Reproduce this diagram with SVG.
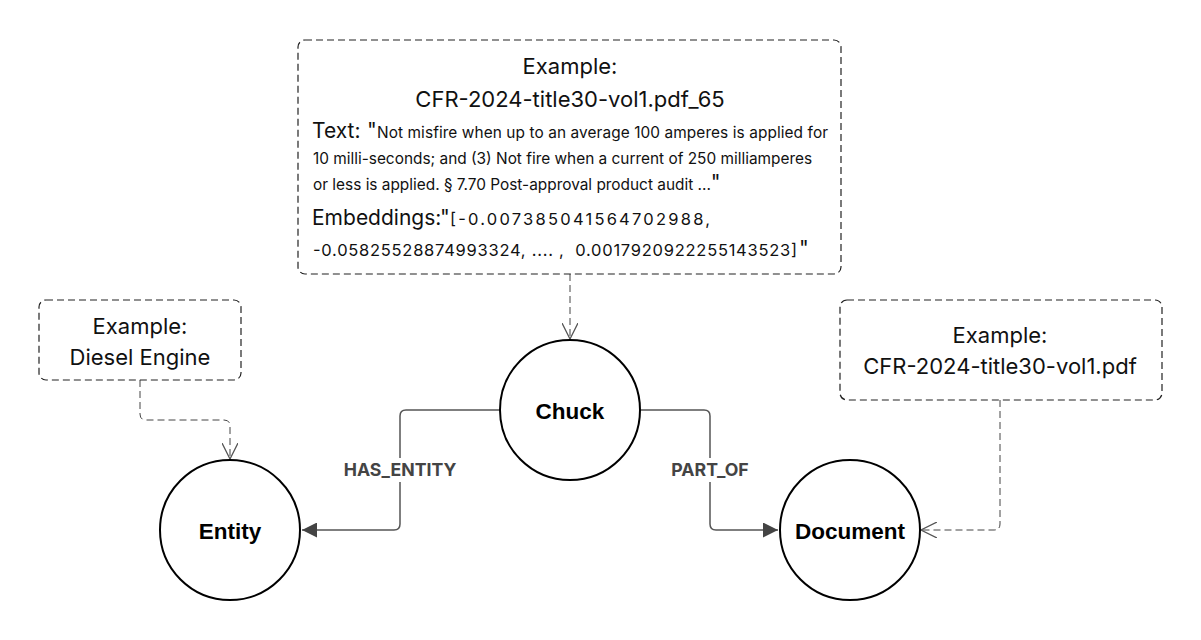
<svg xmlns="http://www.w3.org/2000/svg" width="1201" height="640" viewBox="0 0 1201 640">
<defs>
<style>
.box{fill:#fff;stroke:#222;stroke-width:1.2;stroke-dasharray:7 4}
.node{fill:#fff;stroke:#000;stroke-width:2}
.ex{font-family:Inter,"Liberation Sans",sans-serif;fill:#111;text-anchor:middle}
.l{text-anchor:start}
.big{font-size:22px}
.mid{font-size:21px}
.small{font-size:15.4px}
.num{font-size:16.5px}
.nl{font-family:"Liberation Sans",Arial,sans-serif;font-weight:bold;font-size:22.5px;fill:#000;text-anchor:middle}
.el{font-family:Inter,"Liberation Sans",sans-serif;font-weight:bold;font-size:17.7px;fill:#444;text-anchor:middle}
.edge{fill:none;stroke:#555;stroke-width:1.5}
.dedge{fill:none;stroke:#444;stroke-width:1;stroke-dasharray:7 4}
</style>
<marker id="filled" viewBox="0 0 10 10" refX="10" refY="5" markerWidth="15" markerHeight="15" markerUnits="userSpaceOnUse" orient="auto">
<path d="M0,0 L10,5 L0,10 z" fill="#444"/>
</marker>
<marker id="open" viewBox="0 0 10 10" refX="10" refY="5" markerWidth="16" markerHeight="16" markerUnits="userSpaceOnUse" orient="auto">
<path d="M0,0 L10,5 L0,10" fill="none" stroke="#555" stroke-width="0.8"/>
</marker>
</defs>
<rect width="1201" height="640" fill="#fff"/>
<g id="connectors">
<path class="edge" d="M500,410 H406 Q400,410 400,416 V524 Q400,530 394,530 H302" marker-end="url(#filled)"/>
<path class="edge" d="M640,410 H704 Q710,410 710,416 V524 Q710,530 716,530 H778" marker-end="url(#filled)"/>
<path class="dedge" d="M570,274 V339" marker-end="url(#open)"/>
<path class="dedge" d="M140,380 V414 Q140,420 146,420 H224 Q230,420 230,426 V459" marker-end="url(#open)"/>
<path class="dedge" d="M1000,400 V524 Q1000,530 994,530 H921" marker-end="url(#open)"/>
<rect x="338" y="458" width="124" height="24" fill="#fff"/>
<text class="el" x="400" y="476">HAS_ENTITY</text>
<rect x="666" y="458" width="88" height="24" fill="#fff"/>
<text class="el" x="710" y="476">PART_OF</text>
</g>
<g id="chunk-example">
<rect class="box" x="298" y="40" width="543" height="234" rx="7"/>
<text class="ex big" x="570" y="74">Example:</text>
<text class="ex big" x="570" y="107">CFR-2024-title30-vol1.pdf_65</text>
<text class="ex l mid" x="312" y="138">Text:</text>
<text class="ex l mid" x="367" y="138">"</text>
<text class="ex l small" x="377" y="138" textLength="451" lengthAdjust="spacing">Not misfire when up to an average 100 amperes is applied for</text>
<text class="ex l small" x="313" y="164">10 milli-seconds; and (3) Not fire when a current of 250 milliamperes</text>
<text class="ex l" x="313" y="190"><tspan class="small">or less is applied. § 7.70 Post-approval product audit ...</tspan><tspan class="mid">"</tspan></text>
<text class="ex l mid" x="312" y="225">Embeddings:</text>
<text class="ex l mid" x="440" y="225">"</text>
<text class="ex l num" x="450" y="225" textLength="260" lengthAdjust="spacing">[-0.007385041564702988,</text>
<text class="ex l num" x="313" y="256" textLength="484" lengthAdjust="spacing" xml:space="preserve">-0.05825528874993324, .... ,  0.0017920922255143523]</text>
<text class="ex l mid" x="799" y="256">"</text>
</g>
<g id="entity-example">
<rect class="box" x="39" y="300" width="202" height="80" rx="7"/>
<text class="ex big" x="140" y="334">Example:</text>
<text class="ex big" x="140" y="365">Diesel Engine</text>
</g>
<g id="document-example">
<rect class="box" x="840" y="300" width="322" height="100" rx="7"/>
<text class="ex big" x="1000" y="343">Example:</text>
<text class="ex big" x="1000" y="374">CFR-2024-title30-vol1.pdf</text>
</g>
<g id="chuck">
<circle class="node" cx="570" cy="410" r="70"/>
<text class="nl" x="570" y="419">Chuck</text>
</g>
<g id="entity">
<circle class="node" cx="230" cy="530" r="70"/>
<text class="nl" x="230" y="539">Entity</text>
</g>
<g id="document">
<circle class="node" cx="850" cy="530" r="70"/>
<text class="nl" x="850" y="539">Document</text>
</g>
</svg>
